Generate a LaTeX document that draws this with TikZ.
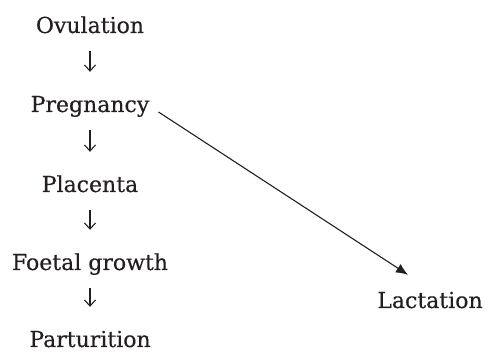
\documentclass[tikz,border=0pt]{standalone}
\usepackage{fontspec}
\setmainfont{DejaVu Serif}[FakeBold=0.4]
\usetikzlibrary{arrows.meta,calc}
\definecolor{ink}{HTML}{231F20}
\begin{document}
\begin{tikzpicture}[x=1pt,y=1pt,
  lbl/.style={inner sep=0pt, text height=14pt, text depth=4pt, anchor=base,
    font=\fontsize{22}{26}\selectfont, text=ink},
  dn/.style={draw=ink, line width=1.1pt, -{Straight Barb[length=6pt,width=11pt,line width=1.1pt]},
    shorten <=13.5pt, shorten >=26pt},
  diag/.style={draw=ink, line width=1.1pt, -{Latex[length=12pt,width=10pt]}}]
\useasboundingbox (0,0) rectangle (489,352);
\node[lbl] (ov) at (90,319) {Ovulation};
\node[lbl] (pr) at (90,240) {Pregnancy};
\node[lbl] (pl) at (90,160) {Placenta};
\node[lbl] (fg) at (90,82) {Foetal growth};
\node[lbl] (pa) at (90,5) {Parturition};
\node[lbl] (la) at (430,44) {Lactation};
\draw[dn] (ov.south) -- (pr.north);
\draw[dn] (pr.south) -- (pl.north);
\draw[dn] (pl.south) -- (fg.north);
\draw[dn] (fg.south) -- (pa.north);
\draw[diag] ($(pr.base east)+(9,0)$) -- ($(la.north)+(-22,19)$);
\end{tikzpicture}
\end{document}
